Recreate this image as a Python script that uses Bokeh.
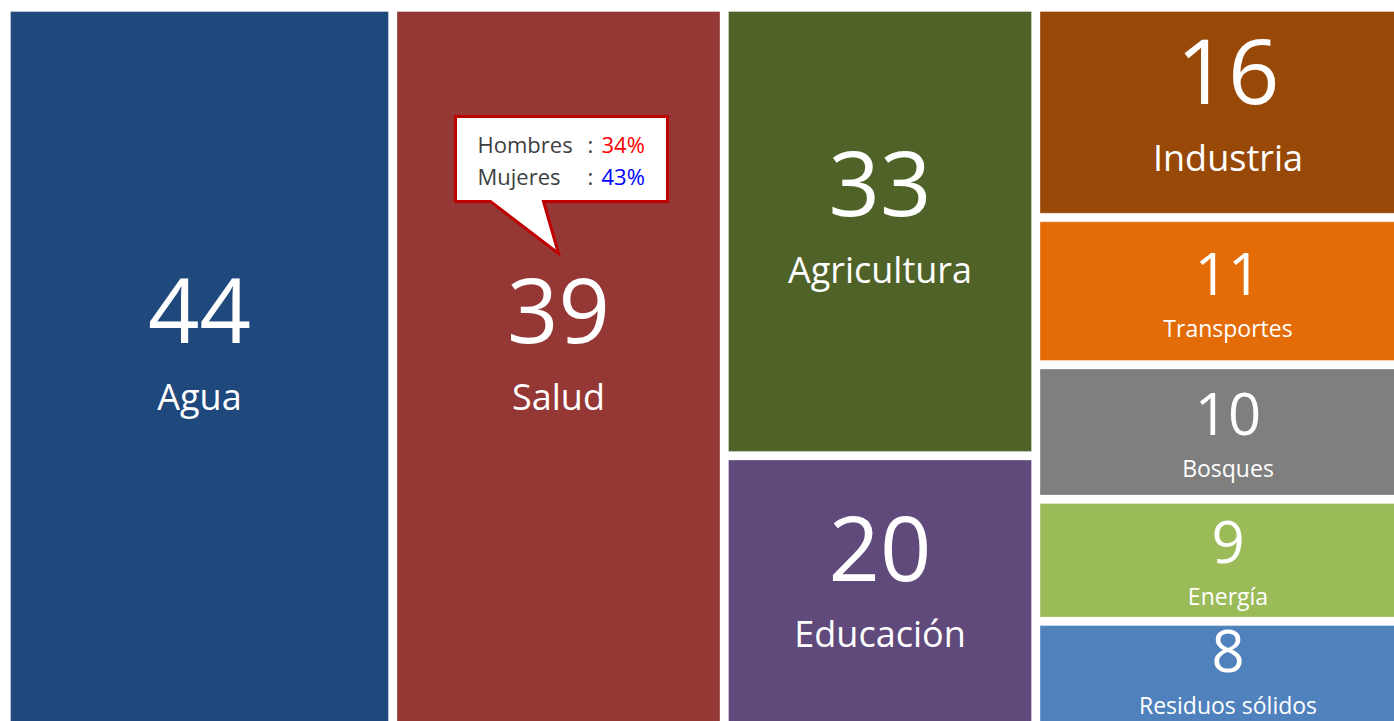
from bokeh.plotting import figure
from bokeh.models import ColumnDataSource, Range1d
from bokeh.core.properties import value
from bokeh.embed import file_html
from bokeh.resources import INLINE

# ---------------- data ----------------
categories = ["Agua", "Salud", "Agricultura", "Educación", "Industria",
              "Transportes", "Bosques", "Energía", "Residuos sólidos"]
values = [44, 39, 33, 20, 16, 11, 10, 9, 8]
callout_category = "Salud"
callout_labels = ["Hombres", "Mujeres"]
callout_pcts = [34, 43]

# ---------------- styles / layout ----------------
colors = ["#1F497D", "#953735", "#4F6228", "#604A7B", "#984807",
          "#E36C09", "#7F7F7F", "#9BBB59", "#4F81BD"]
callout_pct_colors = ["#FF0000", "#0000FF"]
columns = [["Agua"], ["Salud"], ["Agricultura", "Educación"],
           ["Industria", "Transportes", "Bosques", "Energía", "Residuos sólidos"]]
col_widths = [378, 323, 303, 376]
W, H = 1394, 721
LEFT, TOP, BOTTOM, GAP = 10, 11, 726, 8.5
FONT = "Open Sans"
BASE_SHIFT = 0.38   # renderer places alphabetic baseline ~0.38em below y

val = dict(zip(categories, values))
col = dict(zip(categories, colors))

# ---------------- treemap layout from the values ----------------
rows = dict(l=[], r=[], t=[], b=[], color=[], cat=[], num=[], cx=[], ny=[], ly=[],
            nfs=[], lfs=[], ntop=[])
x = LEFT
for group, w in zip(columns, col_widths):
    total = sum(val[c] for c in group)
    avail = (BOTTOM - TOP) - GAP * (len(group) - 1)
    y = TOP
    for c in group:
        h = avail * val[c] / total
        y0, y1 = y, y + h
        big = val[c] >= 16
        sN = 90 if big else 58
        sL = 36 if big else 23
        gap_k = 0.44 if big else 0.42
        gh = 0.714 * sN + gap_k * sN + 0.714 * sL
        vis0, vis1 = y0, min(y1, H)
        vh = vis1 - vis0
        shift = -0.03 * vh if big else 0.03 * vh
        top = (vis0 + vis1) / 2 - gh / 2 + shift
        top = max(y0 + 4, min(top, H - 8 - gh))
        nb = top + 0.714 * sN
        lb = nb + gap_k * sN + 0.714 * sL
        rows["l"].append(x); rows["r"].append(x + w)
        rows["t"].append(y0); rows["b"].append(y1)
        rows["color"].append(col[c]); rows["cat"].append(c)
        rows["num"].append(str(val[c])); rows["cx"].append(x + w / 2)
        rows["ny"].append(nb - BASE_SHIFT * sN); rows["ly"].append(lb - BASE_SHIFT * sL)
        rows["nfs"].append(f"{sN}px"); rows["lfs"].append(f"{sL}px")
        rows["ntop"].append(top)
        y = y1 + GAP
    x += w + GAP

src = ColumnDataSource(rows)

p = figure(width=W, height=H, x_range=Range1d(0, W), y_range=Range1d(H, 0),
           output_backend="svg", toolbar_location=None, min_border=0)
p.axis.visible = False
p.grid.visible = False
p.outline_line_color = None
p.background_fill_color = "white"
p.border_fill_color = "white"

p.quad(left="l", right="r", top="t", bottom="b", fill_color="color",
       line_color="white", line_alpha=0.35, line_width=1, source=src)

p.text(x="cx", y="ny", text="num", source=src, text_font=value(FONT),
       text_font_size="nfs", text_align="center", text_baseline="alphabetic",
       text_color="white")
p.text(x="cx", y="ly", text="cat", source=src, text_font=value(FONT),
       text_font_size="lfs", text_align="center", text_baseline="alphabetic",
       text_color="white")

# ---------------- callout on Salud ----------------
i = rows["cat"].index(callout_category)
tx, ty = rows["cx"][i], rows["ntop"][i] - 27
bx0, bx1, by0, by1 = tx - 103, tx + 109, ty - 137, ty - 52
p.patch([bx0, bx1, bx1, tx - 15, tx, tx - 68, bx0],
        [by0, by0, by1, by1, ty, by1, by1],
        fill_color="white", line_color="#C00000", line_width=3, line_join="miter")
cfs = 22
line_y = [by0 + 36 - BASE_SHIFT * cfs, by0 + 68 - BASE_SHIFT * cfs]
p.text(x=[bx0 + 22] * 2, y=line_y, text=callout_labels, text_font=value(FONT),
       text_font_size=f"{cfs}px", text_align="left", text_baseline="alphabetic",
       text_color="#404040")
p.text(x=[bx0 + 132] * 2, y=line_y, text=[":", ":"], text_font=value(FONT),
       text_font_size=f"{cfs}px", text_align="left", text_baseline="alphabetic",
       text_color="#404040")
p.text(x=[bx0 + 146] * 2, y=line_y, text=[f"{v}%" for v in callout_pcts],
       text_font=value(FONT), text_font_size=f"{cfs}px", text_align="left",
       text_baseline="alphabetic", text_color=callout_pct_colors)

open("out.html", "w").write(file_html(p, INLINE))
